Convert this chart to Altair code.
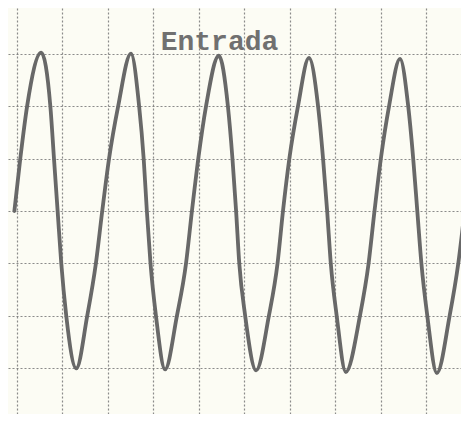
import altair as alt
import pandas as pd

# Waveform: time and level in grid divisions
t_div = [-0.05, 0.08, 0.23, 0.54,
         0.74, 0.82, 0.90, 0.98, 1.09, 1.31,
         1.55, 1.74, 1.88, 2.03, 2.23, 2.51,
         2.69, 2.79, 2.86, 2.94, 3.06, 3.26,
         3.52, 3.72, 3.85, 3.99, 4.16, 4.44,
         4.64, 4.74, 4.82, 4.89, 5.02, 5.26,
         5.54, 5.73, 5.85, 5.99, 6.18, 6.42,
         6.62, 6.73, 6.82, 6.90, 7.03, 7.23,
         7.54, 7.73, 7.86, 8.00, 8.18, 8.42,
         8.60, 8.71, 8.80, 8.89, 9.02, 9.23,
         9.51, 9.70, 9.84, 9.98]
v_div = [0.0, 1.0, 2.0, 3.02,
         2.0, 1.0, 0.0, -1.0, -2.0, -3.0,
         -2.0, -1.0, 0.0, 1.0, 2.0, 3.0,
         2.0, 1.0, 0.0, -1.0, -2.0, -3.02,
         -2.0, -1.0, 0.0, 1.0, 2.0, 2.96,
         2.0, 1.0, 0.0, -1.0, -2.0, -3.04,
         -2.0, -1.0, 0.0, 1.0, 2.0, 2.92,
         2.0, 1.0, 0.0, -1.0, -2.0, -3.07,
         -2.0, -1.0, 0.0, 1.0, 2.0, 2.9,
         2.0, 1.0, 0.0, -1.0, -2.0, -3.09,
         -2.0, -1.0, 0.0, 1.0]

x_grid = [0, 1, 2, 3, 4, 5, 6, 7, 8, 9]
y_grid = [-3, -2, -1, 0, 1, 2, 3]

df = pd.DataFrame({"t": t_div, "v": v_div})

bg = "#fcfcf4"
grid_style = dict(grid=True, labels=False, ticks=False, domain=False, title=None,
                  gridDash=[2, 2], gridColor="#777777", gridWidth=1.2, gridOpacity=0.85)

chart = alt.Chart(df).mark_line(
    color="#686868", strokeWidth=3.8, interpolate="monotone", clip=True, strokeCap="round"
).encode(
    x=alt.X("t:Q", scale=alt.Scale(domain=[-0.19, 9.76], nice=False, zero=False),
            axis=alt.Axis(values=x_grid, **grid_style)),
    y=alt.Y("v:Q", scale=alt.Scale(domain=[-3.87, 3.87], nice=False, zero=False),
            axis=alt.Axis(values=y_grid, **grid_style)),
).properties(
    width=453, height=406, padding=0,
    autosize=alt.AutoSizeParams(type="none"),
    background=bg,
    title=alt.TitleParams("Entrada", font="Liberation Mono", fontSize=28, fontWeight="bold",
                          color="#707070", anchor="middle", dx=-15, offset=-70,
                          baseline="alphabetic", frame="group"),
).configure_view(stroke=None, fill=bg)

chart.save("out.html", embed_options={"renderer": "svg", "actions": False})
